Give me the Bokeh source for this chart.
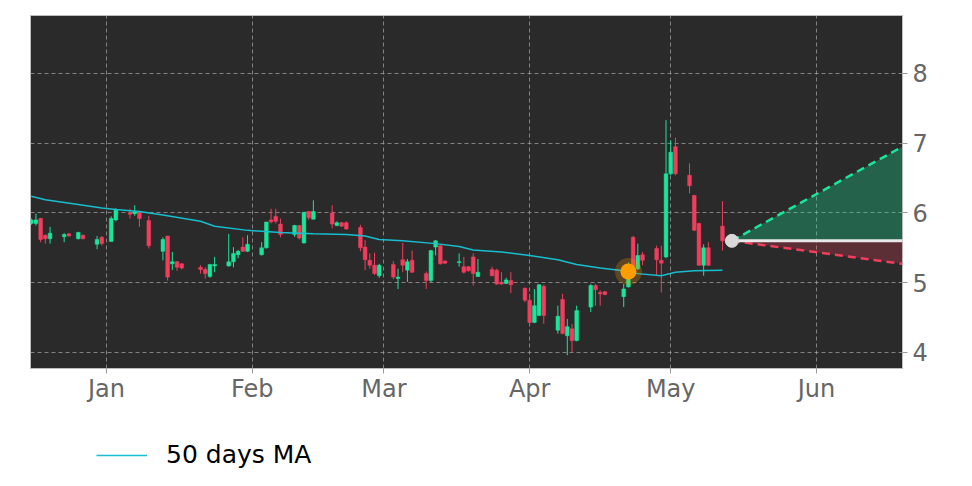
import pandas as pd
from bokeh.plotting import figure
from bokeh.layouts import column
from bokeh.models import (Range1d, FixedTicker, MonthsTicker, DatetimeTickFormatter,
                          Legend, LegendItem, ColumnDataSource)
from bokeh.embed import file_html
from bokeh.resources import INLINE

# ---------------- data ----------------
dates = ["2024-12-16", "2024-12-17", "2024-12-18", "2024-12-19", "2024-12-20",
         "2024-12-23", "2024-12-24", "2024-12-26", "2024-12-27", "2024-12-30",
         "2024-12-31", "2025-01-02", "2025-01-03", "2025-01-06", "2025-01-07",
         "2025-01-08", "2025-01-10", "2025-01-13", "2025-01-14", "2025-01-15",
         "2025-01-16", "2025-01-17", "2025-01-21", "2025-01-22", "2025-01-23",
         "2025-01-24", "2025-01-27", "2025-01-28", "2025-01-29", "2025-01-30",
         "2025-01-31", "2025-02-03", "2025-02-04", "2025-02-05", "2025-02-06",
         "2025-02-07", "2025-02-10", "2025-02-11", "2025-02-12", "2025-02-13",
         "2025-02-14", "2025-02-18", "2025-02-19", "2025-02-20", "2025-02-21",
         "2025-02-24", "2025-02-25", "2025-02-26", "2025-02-27", "2025-02-28",
         "2025-03-03", "2025-03-04", "2025-03-05", "2025-03-06", "2025-03-07",
         "2025-03-10", "2025-03-11", "2025-03-12", "2025-03-13", "2025-03-14",
         "2025-03-17", "2025-03-18", "2025-03-19", "2025-03-20", "2025-03-21",
         "2025-03-24", "2025-03-25", "2025-03-26", "2025-03-27", "2025-03-28",
         "2025-03-31", "2025-04-01", "2025-04-02", "2025-04-03", "2025-04-04",
         "2025-04-07", "2025-04-08", "2025-04-09", "2025-04-10", "2025-04-11",
         "2025-04-14", "2025-04-15", "2025-04-16", "2025-04-17", "2025-04-21",
         "2025-04-22", "2025-04-23", "2025-04-24", "2025-04-25", "2025-04-28",
         "2025-04-29", "2025-04-30", "2025-05-01", "2025-05-02", "2025-05-05",
         "2025-05-06", "2025-05-07", "2025-05-08", "2025-05-09", "2025-05-12"]

opens = [5.85, 5.85, 5.92, 5.68, 5.63, 5.66, 5.70, 5.63, 5.68, 5.55,
         5.65, 5.59, 5.90, 6.00, 5.99, 6.01, 5.89, 5.45, 5.67, 5.27,
         5.30, 5.27, 5.22, 5.19, 5.09, 5.24, 5.24, 5.30, 5.40, 5.51,
         5.45, 5.40, 5.50, 5.90, 5.95, 5.84, 5.69, 5.82, 5.57, 6.02,
         5.91, 6.00, 5.82, 5.86, 5.86, 5.79, 5.51, 5.32, 5.25, 5.10,
         5.26, 5.06, 5.33, 5.18, 5.32, 5.13, 5.03, 5.51, 5.53, 5.31,
         5.29, 5.23, 5.23, 5.37, 5.09, 5.19, 5.18, 5.00, 4.99, 5.03,
         4.92, 4.75, 4.43, 4.53, 4.95, 4.32, 4.76, 4.24, 4.34, 4.17,
         4.65, 4.96, 4.86, 4.87, 4.80, 4.94, 5.65, 5.20, 5.40, 5.49,
         5.32, 5.37, 6.56, 6.95, 6.54, 6.25, 5.85, 5.25, 5.50, 5.81]

highs = [5.92, 5.99, 5.93, 5.69, 5.80, 5.71, 5.71, 5.73, 5.69, 5.67,
         5.67, 5.95, 6.07, 6.06, 6.11, 6.03, 5.96, 5.65, 5.67, 5.44,
         5.31, 5.28, 5.25, 5.22, 5.27, 5.37, 5.70, 5.51, 5.47, 5.65,
         5.68, 5.58, 5.87, 6.06, 6.06, 5.92, 5.83, 5.83, 6.01, 6.03,
         6.18, 6.11, 5.88, 5.87, 5.88, 5.83, 5.61, 5.42, 5.43, 5.27,
         5.31, 5.20, 5.57, 5.34, 5.46, 5.16, 5.47, 5.61, 5.55, 5.32,
         5.42, 5.37, 5.24, 5.42, 5.34, 5.23, 5.20, 5.15, 5.07, 5.15,
         4.93, 4.84, 4.91, 4.98, 4.97, 4.67, 4.84, 4.48, 4.41, 4.67,
         4.98, 4.98, 4.89, 4.88, 4.98, 5.29, 5.67, 5.56, 5.44, 5.53,
         5.53, 7.33, 7.04, 7.08, 6.71, 6.26, 5.86, 5.55, 5.58, 6.17]

lows = [5.83, 5.82, 5.58, 5.56, 5.56, 5.58, 5.66, 5.62, 5.62, 5.48,
        5.53, 5.59, 5.88, 5.92, 5.96, 5.80, 5.49, 5.32, 5.03, 5.18,
        5.17, 5.19, 5.13, 5.06, 5.07, 5.15, 5.23, 5.22, 5.35, 5.44,
        5.44, 5.39, 5.49, 5.85, 5.85, 5.65, 5.66, 5.62, 5.56, 5.90,
        5.91, 5.78, 5.81, 5.80, 5.76, 5.45, 5.18, 5.20, 5.11, 5.07,
        5.05, 4.91, 5.15, 5.01, 5.14, 4.91, 5.01, 5.39, 5.26, 5.27,
        5.23, 5.13, 5.16, 4.96, 5.08, 5.09, 4.97, 4.97, 4.98, 4.85,
        4.72, 4.39, 4.42, 4.52, 4.41, 4.27, 4.26, 3.96, 4.00, 4.16,
        4.58, 4.67, 4.67, 4.82, 4.65, 4.93, 5.22, 5.18, 5.25, 5.10,
        4.86, 5.35, 6.54, 6.54, 6.28, 5.74, 5.24, 5.10, 5.24, 5.46]

closes = [5.90, 5.90, 5.62, 5.63, 5.71, 5.69, 5.67, 5.72, 5.63, 5.62,
          5.56, 5.92, 6.05, 5.98, 6.02, 5.92, 5.53, 5.62, 5.08, 5.30,
          5.22, 5.21, 5.19, 5.13, 5.26, 5.26, 5.30, 5.42, 5.45, 5.45,
          5.55, 5.50, 5.87, 5.87, 5.88, 5.69, 5.82, 5.64, 6.01, 5.93,
          6.02, 5.84, 5.86, 5.81, 5.77, 5.50, 5.33, 5.25, 5.13, 5.25,
          5.08, 5.08, 5.25, 5.30, 5.15, 5.03, 5.46, 5.60, 5.27, 5.28,
          5.30, 5.15, 5.17, 5.13, 5.15, 5.10, 4.98, 4.98, 5.04, 4.97,
          4.75, 4.43, 4.67, 4.97, 4.53, 4.52, 4.27, 4.37, 4.17, 4.60,
          4.96, 4.90, 4.84, 4.83, 4.91, 5.06, 5.22, 5.39, 5.32, 5.33,
          5.28, 6.56, 6.87, 6.56, 6.39, 5.75, 5.25, 5.50, 5.25, 5.60]

ma_dates = ["2024-12-16", "2024-12-19", "2024-12-26", "2024-12-31", "2025-01-03",
            "2025-01-08", "2025-01-13", "2025-01-21", "2025-01-24", "2025-01-31",
            "2025-02-07", "2025-02-14", "2025-02-21", "2025-02-25", "2025-02-28",
            "2025-03-05", "2025-03-12", "2025-03-17", "2025-03-20", "2025-03-26",
            "2025-04-01", "2025-04-07", "2025-04-11", "2025-04-16", "2025-04-21",
            "2025-04-24", "2025-04-29", "2025-05-02", "2025-05-06", "2025-05-12"]
ma_values = [6.24, 6.19, 6.12, 6.07, 6.05, 6.02, 5.97, 5.88, 5.81, 5.75,
             5.72, 5.70, 5.69, 5.67, 5.62, 5.60, 5.56, 5.52, 5.47, 5.44,
             5.39, 5.33, 5.26, 5.21, 5.17, 5.13, 5.10, 5.15, 5.17, 5.18]
ma_label = "50 days MA"

signal_date = ["2025-04-22"]
signal_price = [5.16]

fc_dates = ["2025-05-14T00:00", "2025-06-19T07:00"]
fc_mid = [5.60, 5.60]
fc_upper = [5.60, 6.95]
fc_lower = [5.60, 5.27]

y_ticks = [4, 5, 6, 7, 8]

# ---------------- colours ----------------
UP = "#19e69a"
DOWN = "#f23d5c"
BG = "#2a2a2a"
MA_COLOR = "#17becf"

df = pd.DataFrame({"date": pd.to_datetime(dates), "open": opens, "high": highs,
                   "low": lows, "close": closes})
df["top"] = df[["open", "close"]].max(axis=1)
df["bottom"] = df[["open", "close"]].min(axis=1)
df["color"] = [UP if c >= o else DOWN for o, c in zip(df["open"], df["close"])]
src = ColumnDataSource(df)

W = 947
p = figure(x_axis_type="datetime", width=W, height=413,
           x_range=Range1d(pd.Timestamp("2024-12-15 20:10"), pd.Timestamp("2025-06-19 07:00")),
           y_range=Range1d(3.77, 8.83), y_axis_location="right",
           output_backend="svg", toolbar_location=None,
           min_border_left=30, min_border_top=15, min_border_right=45,
           min_border_bottom=45,
           background_fill_color=BG, border_fill_color="white")

p.outline_line_color = "#bdbdbd"
p.outline_line_width = 1

# grids
for g in (p.xgrid, p.ygrid):
    g.grid_line_color = "#a0a0a0"
    g.grid_line_alpha = 0.75
    g.grid_line_dash = "4 3"
    g.grid_line_width = 1

# axes
p.xaxis.ticker = MonthsTicker(months=list(range(12)))
p.xaxis.formatter = DatetimeTickFormatter(months="%b", days="%b", years="%b")
p.yaxis.ticker = FixedTicker(ticks=y_ticks)
for ax in (p.xaxis[0], p.yaxis[0]):
    ax.axis_line_color = None
    ax.major_tick_line_color = "#9a9a9a"
    ax.major_tick_out = 5
    ax.major_tick_in = 0
    ax.minor_tick_line_color = None
    ax.major_label_text_font = "DejaVu Sans"
    ax.major_label_text_font_size = "24px"
    ax.major_label_text_color = "#666666"
    ax.major_label_standoff = 5
p.xaxis.major_label_standoff = 1

# candles
day = 24 * 3600 * 1000
p.segment(x0="date", y0="low", x1="date", y1="high", color="color", line_width=1, source=src)
p.vbar(x="date", width=0.8 * day, top="top", bottom="bottom", fill_color="color",
       line_color="color", line_width=0.5, source=src)

# moving average
p.line(pd.to_datetime(ma_dates), ma_values, color=MA_COLOR, line_width=1.5)

# signal marker
sd = pd.to_datetime(signal_date)
p.scatter(sd, signal_price, size=27, fill_color="#ff9d00", fill_alpha=0.25, line_color=None)
p.scatter(sd, signal_price, size=16, fill_color="#ff9d00", line_color=None)

# forecast cone
fd = pd.to_datetime(fc_dates)
p.varea(x=fd, y1=fc_mid, y2=fc_upper, fill_color=UP, fill_alpha=0.3)
p.varea(x=fd, y1=fc_lower, y2=fc_mid, fill_color=DOWN, fill_alpha=0.25)
p.line(fd, fc_upper, color=UP, line_width=2.5, line_dash="8 5")
p.line(fd, fc_lower, color=DOWN, line_width=2.5, line_dash="8 5")
p.line(fd, fc_mid, color="#e8e8e8", line_width=3)
p.scatter(fd[:1], fc_mid[:1], size=13, fill_color="#d9d9d9", line_color="#d9d9d9")

# legend strip below the chart (same MA series, drawn outside the strip's visible range)
leg = figure(width=W, height=60, output_backend="svg", toolbar_location=None,
             x_range=Range1d(0, 1), y_range=Range1d(0, 1), min_border=0,
             border_fill_color="white", background_fill_color="white")
leg.axis.visible = False
leg.grid.visible = False
leg.outline_line_color = None
ma_leg = leg.line(pd.to_datetime(ma_dates).astype("int64"), ma_values,
                  color=MA_COLOR, line_width=1.5)
legend = Legend(items=[LegendItem(label=ma_label, renderers=[ma_leg])],
                location=(66, 4), orientation="horizontal",
                glyph_width=51, glyph_height=24, label_height=24,
                label_standoff=19, padding=0, margin=0,
                border_line_color=None, background_fill_alpha=0,
                label_text_font="DejaVu Sans", label_text_font_size="25px",
                label_text_color="#000000")
leg.add_layout(legend, "center")

open("out.html", "w").write(file_html(column(p, leg, spacing=0), INLINE))
